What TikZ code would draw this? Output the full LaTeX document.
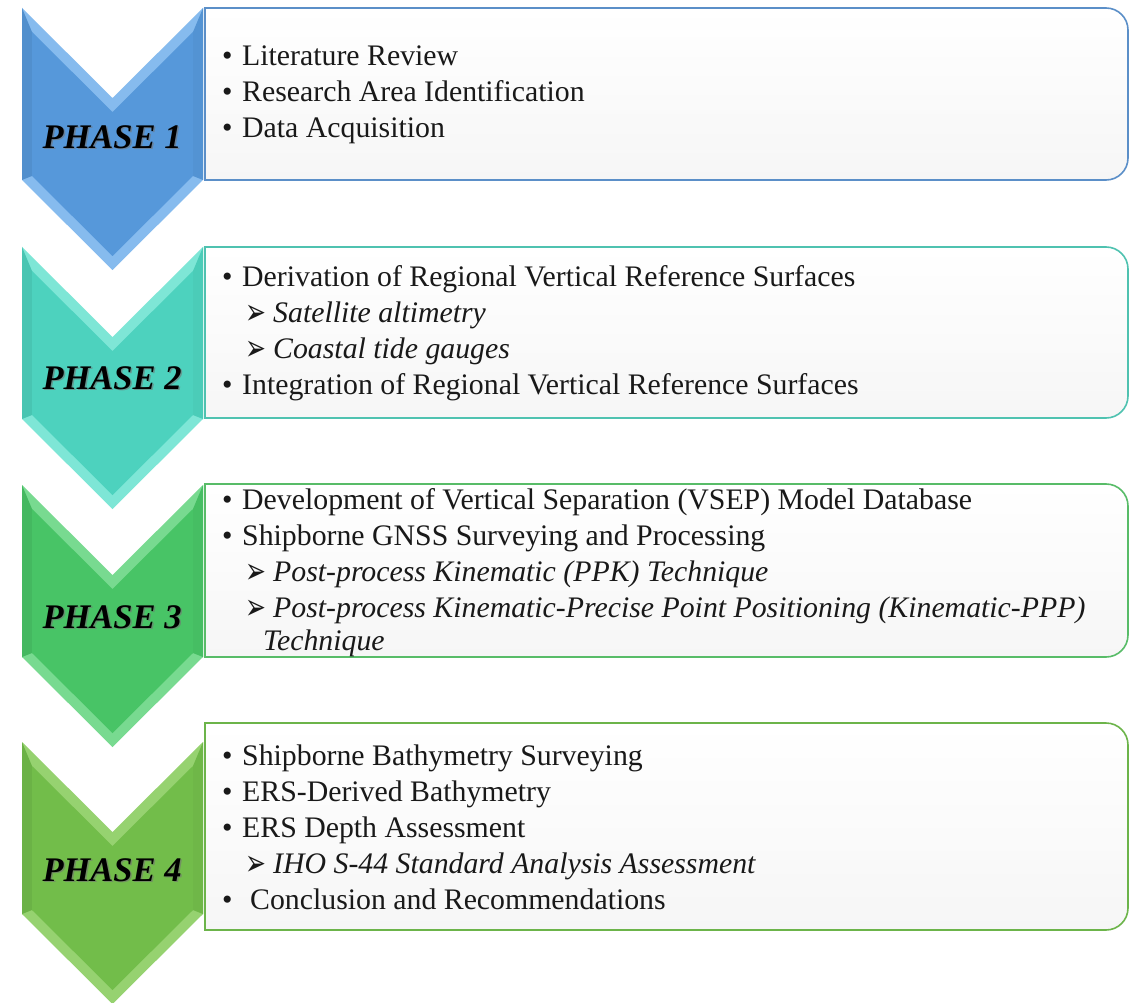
\documentclass[tikz,border=0pt]{standalone}
\usepackage{graphicx}
\usepackage{fontspec}
\setmainfont{Liberation Serif}
\newfontfamily\arrowfont{DejaVu Sans}

% phase colours: face, bevel, box border
\definecolor{pAmain}{HTML}{5698DA}\definecolor{pAlight}{HTML}{86BBEE}\definecolor{pAline}{HTML}{5B8FC8}
\definecolor{pBmain}{HTML}{4DD2BE}\definecolor{pBlight}{HTML}{7EE6D6}\definecolor{pBline}{HTML}{4FC2B0}
\definecolor{pCmain}{HTML}{48C466}\definecolor{pClight}{HTML}{78DA90}\definecolor{pCline}{HTML}{58BC68}
\definecolor{pDmain}{HTML}{72BD4A}\definecolor{pDlight}{HTML}{96D270}\definecolor{pDline}{HTML}{6CB44A}

% list markers
\newcommand\bul{\makebox[20pt][l]{\textbullet}}
\newcommand\bulwide{\makebox[28pt][l]{\textbullet}}
\newcommand\subarr{\hspace*{23pt}\makebox[28pt][l]{\raisebox{-2.5pt}{\arrowfont\fontsize{25}{25}\selectfont\scalebox{1}[1.45]{➢}}}}

% bevelled chevron: #1 top y, #2 face colour, #3 bevel colour
\newcommand\drawchevron[3]{%
  \fill[#3] (22,#1) -- (112.5,#1+90) -- (203,#1) -- (203,#1+172)
            -- (112.5,#1+262) -- (22,#1+172) -- cycle;
  \fill[#2!94!black] (22,#1) -- (32,#1+24) -- (32,#1+168) -- (22,#1+172) -- cycle;
  \fill[#2!97!black] (203,#1) -- (193,#1+24) -- (193,#1+168) -- (203,#1+172) -- cycle;
  \fill[#2] (32,#1+24) -- (112.5,#1+104) -- (193,#1+24) -- (193,#1+168)
            -- (112.5,#1+248) -- (32,#1+168) -- cycle;
}

% text panel, square on the left and rounded on the right: #1 top, #2 bottom, #3 border
\newcommand\drawpanel[3]{%
  \draw[panel, draw=#3] (205,#1) -- (1106,#1) arc[start angle=-90,end angle=0,radius=22]
        -- (1128,#2-22) arc[start angle=0,end angle=90,radius=22] -- (205,#2) -- cycle;
}

\tikzset{
  panel/.style={line width=1.6pt, top color=white, bottom color=gray!7},
  phaselabel/.style={font=\fontsize{34.5}{40}\selectfont\bfseries\itshape, text=black, inner sep=0pt},
  phaseshade/.style={phaselabel, text=black!55, opacity=0.6},
  listtext/.style={anchor=north west, inner sep=0pt, align=left,
                   font=\fontsize{29.8}{36}\selectfont, text=black!90},
}

\begin{document}
\begin{tikzpicture}[x=1pt,y=-1pt]
\useasboundingbox (0,0) rectangle (1130,1003);
\fill[white] (0,0) rectangle (1130,1003);

% chevrons
\drawchevron{8}{pAmain}{pAlight}
\drawchevron{247}{pBmain}{pBlight}
\drawchevron{485}{pCmain}{pClight}
\drawchevron{742}{pDmain}{pDlight}

% panels
\drawpanel{8}{180}{pAline}
\drawpanel{247}{418}{pBline}
\drawpanel{484}{657}{pCline}
\drawpanel{723}{930}{pDline}

% phase labels with soft shadow
\node[phaseshade] (ph1s) at (113.5,138.5) {PHASE 1};
\node[phaselabel] (ph1) at (112,137) {PHASE 1};
\node[phaseshade] (ph2s) at (113.5,379.5) {PHASE 2};
\node[phaselabel] (ph2) at (112,378) {PHASE 2};
\node[phaseshade] (ph3s) at (113.5,618.5) {PHASE 3};
\node[phaselabel] (ph3) at (112,617) {PHASE 3};
\node[phaseshade] (ph4s) at (113.5,871.5) {PHASE 4};
\node[phaselabel] (ph4) at (112,870) {PHASE 4};

% panel contents
\node[listtext] (list1) at (222,39.8) {\strut\bul Literature Review\\
  \bul Research Area Identification\\
  \bul Data Acquisition};

\node[listtext] (list2) at (222,261) {\strut\bul Derivation of Regional Vertical Reference Surfaces\\
  \subarr\textit{Satellite altimetry}\\
  \subarr\textit{Coastal tide gauges}\\
  \bul Integration of Regional Vertical Reference Surfaces};

\node[listtext] (list3) at (222,484) {\strut\bul Development of Vertical Separation (VSEP) Model Database\\
  \bul Shipborne GNSS Surveying and Processing\\
  \subarr\textit{Post-process Kinematic (PPK) Technique}\\
  \subarr\textit{Post-process Kinematic-Precise Point Positioning (Kinematic-PPP)}\\[-3pt]
  \hspace*{41pt}\textit{Technique}};

\node[listtext] (list4) at (222,740) {\strut\bul Shipborne Bathymetry Surveying\\
  \bul ERS-Derived Bathymetry\\
  \bul ERS Depth Assessment\\
  \subarr\textit{IHO S-44 Standard Analysis Assessment}\\
  \bulwide Conclusion and Recommendations};
\end{tikzpicture}
\end{document}
